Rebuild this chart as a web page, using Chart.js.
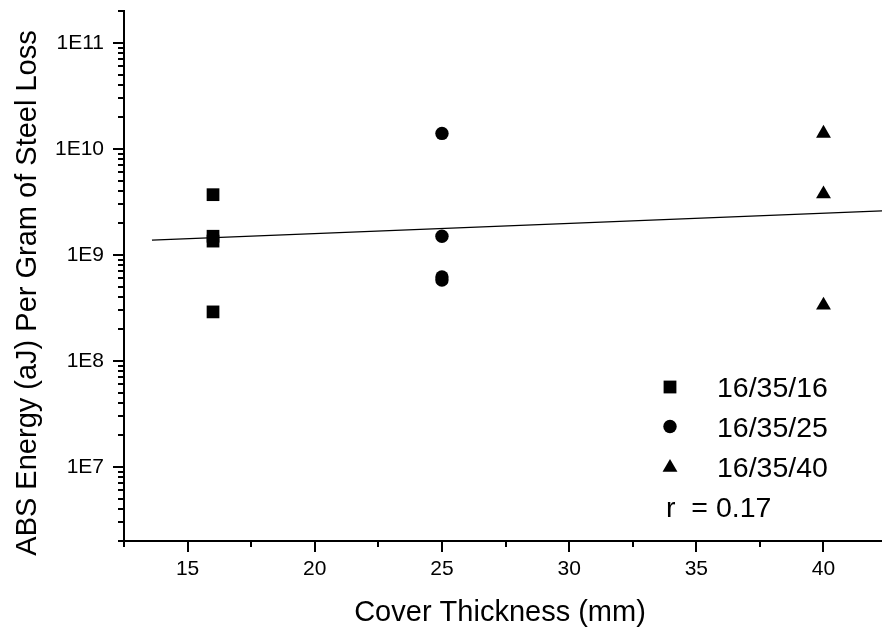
<!DOCTYPE html>
<html>
<head>
<meta charset="utf-8">
<script src="https://cdn.jsdelivr.net/npm/chart.js"></script>
<style>
html, body { margin: 0; padding: 0; background: #fff; overflow: hidden; }
canvas { display: block; }
</style>
</head>
<body>
<canvas id="absChart" width="882" height="634"></canvas>
<script>
// values
const labels = ['16/35/16', '16/35/25', '16/35/40'];
const squaresX = [16, 16, 16, 16];
const squaresY = [3.7e9, 1.5e9, 1.35e9, 2.9e8];
const circlesX = [25, 25, 25, 25];
const circlesY = [1.4e10, 1.5e9, 6.2e8, 5.8e8];
const trianglesX = [40, 40, 40];
const trianglesY = [1.4e10, 3.75e9, 3.35e8];
const fitX = [13.6, 42.3];
const fitY = [1.38e9, 2.6e9];
const rText = 'r  = 0.17';

const xMajorTicks = [15, 20, 25, 30, 35, 40];
const xMinorTicks = [12.5, 17.5, 22.5, 27.5, 32.5, 37.5];
const yMajorTicks = [1e7, 1e8, 1e9, 1e10, 1e11];
const yMinorSteps = [2, 3, 4, 5, 6, 7, 8, 9];
const yDecades = [1e6, 1e7, 1e8, 1e9, 1e10, 1e11];

const xTitle = 'Cover Thickness (mm)';
const yTitle = 'ABS Energy (aJ) Per Gram of Steel Loss';

const FONT = "'Liberation Sans', Arial, sans-serif";
Chart.defaults.font.family = FONT;
Chart.defaults.color = '#000';

function pts(xs, ys) {
    return xs.map((x, i) => ({ x: x, y: ys[i] }));
}

// tick marks, axis titles and the legend box
const decor = {
    id: 'decor',
    afterDraw(chart) {
        const ctx = chart.ctx;
        const xs = chart.scales.x;
        const ys = chart.scales.y;
        const a = chart.chartArea;
        ctx.save();
        ctx.strokeStyle = '#000';
        ctx.lineWidth = 2;
        ctx.beginPath();
        xMajorTicks.forEach(v => {
            const px = Math.round(xs.getPixelForValue(v));
            ctx.moveTo(px, a.bottom); ctx.lineTo(px, a.bottom + 11);
        });
        xMinorTicks.forEach(v => {
            const px = Math.round(xs.getPixelForValue(v));
            ctx.moveTo(px, a.bottom); ctx.lineTo(px, a.bottom + 6);
        });
        yMajorTicks.forEach(v => {
            const py = Math.round(ys.getPixelForValue(v));
            ctx.moveTo(a.left, py); ctx.lineTo(a.left - 11, py);
        });
        yDecades.forEach(d => {
            yMinorSteps.forEach(m => {
                const v = d * m;
                if (v < ys.min * 0.999 || v > ys.max * 1.001) return;
                const py = Math.round(ys.getPixelForValue(v));
                ctx.moveTo(a.left, py); ctx.lineTo(a.left - 6, py);
            });
        });
        ctx.stroke();

        // axis titles
        ctx.fillStyle = '#000';
        ctx.font = '29px ' + FONT;
        ctx.textAlign = 'center';
        ctx.textBaseline = 'alphabetic';
        ctx.fillText(xTitle, 500, 621);
        ctx.save();
        ctx.translate(36, 293);
        ctx.rotate(-Math.PI / 2);
        ctx.fillText(yTitle, 0, 0);
        ctx.restore();

        // legend
        ctx.textAlign = 'left';
        ctx.font = '28.5px ' + FONT;
        const mx = 670;
        const tx = 717;
        const rows = [397, 436.5, 476.5, 517];
        ctx.fillRect(mx - 6.4, rows[0] - 10 - 6.4, 12.8, 12.8);
        ctx.beginPath();
        ctx.arc(mx, rows[1] - 10, 6.7, 0, Math.PI * 2);
        ctx.fill();
        const tr = 8.6, tc = rows[2] - 9;
        ctx.beginPath();
        ctx.moveTo(mx, tc - tr);
        ctx.lineTo(mx + tr * 0.866, tc + tr / 2);
        ctx.lineTo(mx - tr * 0.866, tc + tr / 2);
        ctx.closePath();
        ctx.fill();
        labels.forEach((t, i) => ctx.fillText(t, tx, rows[i]));
        ctx.fillText(rText, 666, rows[3]);
        ctx.restore();
    }
};

const chart = new Chart(document.getElementById('absChart'), {
    type: 'scatter',
    data: {
        datasets: [
            {
                label: 'fit',
                data: pts(fitX, fitY),
                showLine: true,
                borderColor: '#000',
                borderWidth: 1.4,
                pointRadius: 0
            },
            {
                label: labels[0],
                data: pts(squaresX, squaresY),
                pointStyle: 'rect',
                pointRadius: 9,
                backgroundColor: '#000',
                borderWidth: 0
            },
            {
                label: labels[1],
                data: pts(circlesX, circlesY),
                pointStyle: 'circle',
                pointRadius: 6.7,
                backgroundColor: '#000',
                borderWidth: 0
            },
            {
                label: labels[2],
                data: pts(trianglesX, trianglesY),
                pointStyle: 'triangle',
                pointRadius: 8.6,
                backgroundColor: '#000',
                borderWidth: 0
            }
        ]
    },
    options: {
        responsive: false,
        animation: false,
        events: [],
        layout: { autoPadding: false, padding: { top: 11, left: 0, right: 0, bottom: 0 } },
        plugins: {
            legend: { display: false },
            tooltip: { enabled: false }
        },
        scales: {
            x: {
                type: 'linear',
                min: 12.5,
                max: 42.3,
                grid: { display: false, drawTicks: false },
                border: { display: true, color: '#000', width: 2 },
                afterBuildTicks: s => { s.ticks = xMajorTicks.map(v => ({ value: v })); },
                afterFit: s => { s.height = 93; s.paddingLeft = 0; s.paddingRight = 0; },
                ticks: {
                    font: { size: 21 },
                    padding: 16,
                    maxRotation: 0,
                    callback: v => String(v)
                }
            },
            y: {
                type: 'logarithmic',
                min: 2e6,
                max: 2e11,
                grid: { display: false, drawTicks: false },
                border: { display: true, color: '#000', width: 2 },
                afterBuildTicks: s => { s.ticks = yMajorTicks.map(v => ({ value: v, major: true })); },
                afterFit: s => { s.width = 124; s.paddingTop = 0; s.paddingBottom = 0; },
                ticks: {
                    font: { size: 21 },
                    padding: 20,
                    callback: v => '1E' + Math.round(Math.log10(v))
                }
            }
        }
    },
    plugins: [decor]
});
</script>
</body>
</html>
